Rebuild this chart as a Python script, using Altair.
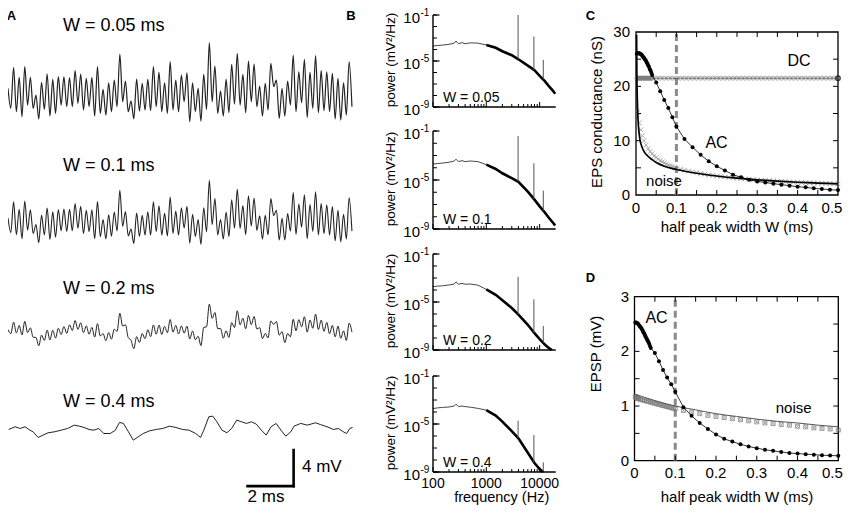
import altair as alt
import pandas as pd

FONT = "Liberation Sans"

# ---------------- Panel A: membrane potential traces (mV) ----------------
A_DT_MS = 0.1214  # spacing of the read extrema for traces W=0.05/0.1/0.2 (ms)
A_TRACE_005 = [-0.04, -2.26, 2.26, -2.63, 1.19, -3.19, 2.37, -1.89, 1.19, -2.26,
               -0.78, -3.44, 0.63, -2.37, 1.56, -3.11, 0.96, -2.81, 1.26, -1.89,
               1.26, -2.07, 1.15, -2.07, 1.93, -1.70, 1.56, -2.44, 1.07, -2.07,
               1.19, -3.11, 2.37, -2.81, -0.15, -3.00, 0.59, -2.63, 0.89, -2.07,
               3.78, -1.52, 0.78, -2.63, -1.44, -3.44, 1.00, -2.56, 0.52, -2.44,
               0.96, -2.52, 2.37, -2.07, 1.74, -2.63, 0.59, -2.81, 2.93, -2.44,
               0.89, -2.63, 1.44, -1.52, 1.70, -3.74, 0.59, -2.63, -0.04, -3.67,
               1.52, -2.37, 5.04, -1.52, 2.44, -2.81, -0.33, -3.11, 0.96, -2.74,
               2.63, -1.78, 3.85, -1.89, 1.52, -2.74, 3.00, -1.52, 2.67, -2.07,
               0.22, -3.11, 0.52, -2.44, 2.74, 0.15, 0.89, -3.37, -0.04, -3.11,
               0.78, -1.89, 3.67, -2.63, 1.81, -1.63, 3.19, -3.26, 1.74, -2.26,
               3.59, -2.74, 1.93, -2.52, 1.81, -2.63, 1.63, -3.44, 1.07, -3.56,
               0.59, -3.00, 2.93, -2.07]
A_TRACE_01 = [-0.06, -1.70, 1.73, -1.93, 0.90, -2.37, 1.83, -1.42, 0.84, -1.79,
              -0.78, -2.82, 0.26, -1.95, 1.04, -2.44, 0.62, -2.20, 0.88, -1.47,
              0.92, -1.56, 0.89, -1.48, 1.54, -1.21, 1.23, -1.80, 0.80, -1.58,
              0.85, -2.37, 1.77, -2.14, -0.23, -2.39, 0.30, -2.09, 0.60, -1.51,
              3.01, -0.99, 0.64, -2.05, -1.30, -2.90, 0.49, -2.13, 0.23, -1.95,
              0.63, -1.95, 1.73, -1.58, 1.30, -1.98, 0.46, -2.06, 2.26, -1.78,
              0.70, -1.96, 1.06, -1.17, 1.24, -2.87, 0.34, -2.11, -0.23, -2.98,
              1.08, -1.60, 4.11, -0.80, 2.09, -1.96, -0.23, -2.40, 0.61, -2.13,
              1.97, -1.21, 3.12, -1.22, 1.31, -1.91, 2.41, -0.96, 2.15, -1.45,
              0.18, -2.41, 0.23, -1.93, 2.09, 0.20, 0.80, -2.51, -0.11, -2.51,
              0.42, -1.53, 2.77, -1.88, 1.48, -1.08, 2.50, -2.36, 1.42, -1.56,
              2.85, -1.93, 1.55, -1.82, 1.41, -1.95, 1.20, -2.60, 0.80, -2.72,
              0.34, -2.39, 2.17, -1.52]
A_TRACE_02 = [-0.13, -0.58, 0.70, -0.49, 0.33, -0.72, 0.79, -0.46, 0.07, -0.98,
              -1.01, -1.93, -0.74, -1.33, -0.18, -1.28, -0.20, -1.07, 0.02, -0.68,
              0.21, -0.55, 0.40, -0.23, 0.87, -0.11, 0.63, -0.47, 0.28, -0.64,
              0.12, -0.96, 0.53, -0.84, -0.57, -1.37, -0.47, -1.19, -0.08, -0.33,
              1.68, 0.26, 0.41, -1.02, -1.32, -2.25, -0.91, -1.56, -0.56, -1.14,
              -0.15, -0.91, 0.39, -0.64, 0.38, -0.68, 0.23, -0.48, 0.99, -0.41,
              0.34, -0.62, 0.28, -0.52, 0.25, -1.18, -0.28, -1.25, -0.87, -1.91,
              0.12, 0.18, 2.70, 1.12, 1.77, -0.03, 0.00, -1.08, -0.26, -1.00,
              0.65, 0.10, 1.96, 0.41, 1.14, -0.04, 1.44, 0.42, 1.33, -0.07,
              0.09, -1.13, -0.56, -1.05, 0.83, 0.45, 0.77, -0.75, -0.36, -1.57,
              -0.56, -0.93, 1.02, -0.27, 0.98, 0.18, 1.30, -0.41, 0.94, 0.02,
              1.59, -0.12, 0.93, -0.32, 0.67, -0.59, 0.34, -0.94, 0.26, -1.09,
              -0.27, -1.34, 0.59, -0.41]
A_TRACE_04_T = [0.03, 0.31, 0.53, 0.74, 0.95, 1.09, 1.31, 1.52, 1.74, 2.02, 2.31, 2.59,
                2.88, 3.09, 3.30, 3.52, 3.73, 3.94, 4.16, 4.44, 4.66, 4.84, 5.01, 5.23,
                5.44, 5.65, 5.87, 6.15, 6.44, 6.72, 7.01, 7.29, 7.58, 7.86, 8.15, 8.36,
                8.50, 8.72, 8.89, 9.07, 9.29, 9.50, 9.71, 9.93, 10.14, 10.35, 10.57,
                10.78, 11.00, 11.21, 11.42, 11.64, 11.85, 12.06, 12.28, 12.42, 12.71,
                12.99, 13.35, 13.56, 13.85, 14.13, 14.34, 14.56, 14.70, 14.84, 14.96]
A_TRACE_04 = [-0.11, 0.19, 0.00, 0.19, -0.19, -0.37, -1.00, -0.74, -0.48, -0.37, -0.19, 0.00,
              0.37, 0.26, 0.11, -0.11, -0.19, 0.00, -0.56, -0.56, -0.19, 0.67, 0.56, -0.37,
              -1.30, -0.93, -0.56, -0.26, -0.11, 0.00, 0.26, 0.11, -0.11, -0.19, -0.56, -1.00,
              -0.19, 1.30, 1.37, 0.74, -0.19, -0.48, 0.00, 0.93, 0.74, 0.56, 0.74,
              0.48, -0.19, -0.74, 0.19, 0.56, -0.19, -0.85, -0.37, 0.26, 0.56,
              0.37, 0.63, 0.44, 0.19, -0.11, 0.00, -0.37, -0.56, 0.00, 0.11]
A_TITLES = ["W = 0.05 ms", "W = 0.1 ms", "W = 0.2 ms", "W = 0.4 ms"]
A_BAR_MS = 2
A_BAR_MV = 4

# ---------------- Panel B: power spectra ----------------
B_FREQ_005 = [100, 120, 150, 200, 250, 270, 300, 350, 400, 500, 700, 1000, 1500, 2000,
              3000, 4000, 6000, 8000, 10000, 12500, 15000, 17500, 19500]
B_LOGP_005 = [-3.70, -3.65, -3.62, -3.55, -3.45, -3.26, -3.50, -3.40, -3.50, -3.42, -3.45,
              -3.60, -3.85, -4.15, -4.50, -4.85, -5.40, -5.80, -6.30, -6.75, -7.20, -7.55, -7.85]
B_FREQ_01 = [100, 120, 150, 200, 250, 270, 300, 350, 400, 500, 700, 1000, 1500, 2000,
             3000, 4000, 6000, 8000, 10000, 12500, 15000, 17500, 19500]
B_LOGP_01 = [-3.70, -3.66, -3.62, -3.55, -3.45, -3.30, -3.50, -3.42, -3.50, -3.45, -3.50,
             -3.75, -4.10, -4.45, -4.85, -5.15, -5.95, -6.60, -7.15, -7.65, -8.10, -8.45, -8.70]
B_FREQ_02 = [100, 120, 150, 200, 250, 270, 300, 350, 400, 500, 700, 1000, 1500, 2000,
             3000, 4000, 6000, 8000, 10000, 12500, 15000, 17000]
B_LOGP_02 = [-3.72, -3.68, -3.65, -3.58, -3.50, -3.32, -3.52, -3.45, -3.52, -3.50, -3.60,
             -3.95, -4.40, -4.85, -5.50, -6.05, -6.90, -7.60, -8.10, -8.55, -8.85, -9.00]
B_FREQ_04 = [100, 120, 150, 200, 250, 270, 300, 350, 400, 500, 700, 1000, 1500, 2000,
             3000, 4000, 6000, 8000, 10000, 11500]
B_LOGP_04 = [-3.72, -3.66, -3.62, -3.58, -3.50, -3.35, -3.55, -3.50, -3.55, -3.60, -3.70,
             -3.85, -4.30, -4.80, -5.60, -6.20, -7.40, -8.25, -8.75, -9.00]
B_SPIKE_F = [3940, 7800, 11700]
B_SPIKE_TOP = [[-1.00, -2.87, -4.90], [-1.41, -3.64, -5.87], [-2.90, -4.78, -7.00], [-4.72, -5.92, -8.20]]
B_SPIKE_BASE = [[-4.85, -5.78, -6.60], [-5.13, -6.55, -7.50], [-6.03, -7.55, -8.40], [-6.18, -8.20, -9.00]]
B_LABELS = ["W = 0.05", "W = 0.1", "W = 0.2", "W = 0.4"]
B_YTICKS = [1e-1, 1e-2, 1e-3, 1e-4, 1e-5, 1e-6, 1e-7, 1e-8, 1e-9]
B_YLAB_P = [1e-1, 1e-5, 1e-9]
B_YLAB_EXP = ["-1", "-5", "-9"]
B_XTICKS_MAJOR = [100, 1000, 10000]
B_XTICKS_MINOR = [200, 300, 400, 500, 600, 700, 800, 900,
                  2000, 3000, 4000, 5000, 6000, 7000, 8000, 9000]
B_XLABELS = ["100", "1000", "10000"]

# ---------------- Panels C, D ----------------
W_AC = [0.002, 0.004, 0.006, 0.008, 0.010, 0.012, 0.014, 0.016, 0.018, 0.020,
        0.022, 0.024, 0.026, 0.028, 0.030, 0.032, 0.034, 0.036, 0.038, 0.040,
        0.05, 0.06, 0.07, 0.08, 0.09, 0.10,
        0.12, 0.14, 0.16, 0.18, 0.20, 0.22, 0.24, 0.26, 0.28, 0.30,
        0.32, 0.34, 0.36, 0.38, 0.40, 0.42, 0.44, 0.46, 0.48, 0.50]
C_AC = [26.0, 26.1, 26.1, 26.1, 26.0, 25.9, 25.8, 25.6, 25.4, 25.2,
        25.0, 24.8, 24.5, 24.2, 23.9, 23.6, 23.2, 22.9, 22.5, 22.1,
        20.7, 19.1, 17.5, 16.0, 14.3, 12.6,
        10.3, 8.8, 7.4, 6.2, 5.3, 4.5, 3.75, 3.25, 2.8, 2.5,
        2.3, 2.08, 1.9, 1.72, 1.53, 1.41, 1.23, 1.1, 0.98, 0.9]
W_DC = [0.002, 0.004, 0.006, 0.008, 0.010, 0.012, 0.014, 0.016, 0.018, 0.020,
        0.022, 0.024, 0.026, 0.028, 0.030, 0.032, 0.034, 0.036, 0.038, 0.040,
        0.05, 0.06, 0.07, 0.08, 0.09, 0.10, 0.11, 0.12, 0.13, 0.14, 0.15, 0.16,
        0.17, 0.18, 0.19, 0.20, 0.21, 0.22, 0.23, 0.24, 0.25, 0.26, 0.27, 0.28,
        0.29, 0.30, 0.31, 0.32, 0.33, 0.34, 0.35, 0.36, 0.37, 0.38, 0.39, 0.40,
        0.41, 0.42, 0.43, 0.44, 0.45, 0.46, 0.47, 0.48, 0.49, 0.50]
C_DC = [21.5, 21.5, 21.5, 21.5, 21.5, 21.5, 21.5, 21.5, 21.5, 21.5,
        21.5, 21.5, 21.5, 21.5, 21.5, 21.5, 21.5, 21.5, 21.5, 21.5,
        21.5, 21.5, 21.5, 21.5, 21.5, 21.5, 21.5, 21.5, 21.5, 21.5, 21.5, 21.5,
        21.5, 21.5, 21.5, 21.5, 21.5, 21.5, 21.5, 21.5, 21.5, 21.5, 21.5, 21.5,
        21.5, 21.5, 21.5, 21.5, 21.5, 21.5, 21.5, 21.5, 21.5, 21.5, 21.5, 21.5,
        21.5, 21.5, 21.5, 21.5, 21.5, 21.5, 21.5, 21.5, 21.5, 21.5]
W_NOISE_C = [0.004, 0.008, 0.012, 0.016, 0.020, 0.025, 0.030, 0.035, 0.040, 0.045,
             0.050, 0.055, 0.060, 0.065, 0.070, 0.075, 0.080, 0.085, 0.090, 0.095, 0.10,
             0.11, 0.12, 0.13, 0.14, 0.15, 0.16, 0.17, 0.18, 0.19, 0.20,
             0.21, 0.22, 0.23, 0.24, 0.25, 0.26, 0.27, 0.28, 0.29, 0.30,
             0.31, 0.32, 0.33, 0.34, 0.35, 0.36, 0.37, 0.38, 0.39, 0.40,
             0.41, 0.42, 0.43, 0.44, 0.45, 0.46, 0.47, 0.48, 0.49, 0.50]
C_NOISE = [15.2, 13.3, 12.0, 10.9, 10.0, 9.2, 8.5, 8.0, 7.6, 7.2,
           6.9, 6.6, 6.3, 6.1, 5.9, 5.7, 5.5, 5.35, 5.2, 5.05, 4.95,
           4.75, 4.55, 4.4, 4.25, 4.1, 3.95, 3.82, 3.7, 3.6, 3.5,
           3.4, 3.32, 3.24, 3.16, 3.08, 3.01, 2.95, 2.89, 2.83, 2.78,
           2.72, 2.67, 2.62, 2.58, 2.53, 2.49, 2.45, 2.41, 2.37, 2.34,
           2.3, 2.27, 2.24, 2.21, 2.18, 2.15, 2.12, 2.09, 2.07, 2.04]
W_NOISE_C_FIT = [0.0015, 0.002, 0.003, 0.004, 0.006, 0.008, 0.010, 0.015, 0.02, 0.03,
                 0.04, 0.05, 0.07, 0.10, 0.15, 0.20, 0.25, 0.30, 0.35, 0.40, 0.45, 0.50]
C_NOISE_FIT = [29.5, 23.0, 18.5, 15.8, 12.8, 11.2, 10.1, 8.8, 8.0, 7.1,
               6.5, 6.0, 5.3, 4.7, 4.0, 3.5, 3.1, 2.8, 2.55, 2.35, 2.2, 2.05]

D_AC = [2.53, 2.53, 2.52, 2.51, 2.49, 2.47, 2.45, 2.43, 2.41, 2.38,
        2.35, 2.32, 2.29, 2.26, 2.23, 2.20, 2.17, 2.14, 2.10, 2.06,
        1.97, 1.82, 1.66, 1.52, 1.40, 1.26,
        0.98, 0.82, 0.69, 0.58, 0.48, 0.40, 0.35, 0.30, 0.26, 0.23,
        0.20, 0.18, 0.16, 0.14, 0.13, 0.12, 0.11, 0.10, 0.095, 0.09]
W_NOISE_D = [0.002, 0.004, 0.006, 0.008, 0.010, 0.015, 0.020, 0.025, 0.030, 0.035,
             0.040, 0.045, 0.050, 0.055, 0.060, 0.065, 0.070, 0.075, 0.080, 0.085,
             0.090, 0.095, 0.10,
             0.12, 0.14, 0.16, 0.18, 0.20, 0.22, 0.24, 0.26, 0.28, 0.30,
             0.32, 0.34, 0.36, 0.38, 0.40, 0.42, 0.44, 0.46, 0.48, 0.50]
D_NOISE = [1.17, 1.16, 1.15, 1.14, 1.13, 1.12, 1.11, 1.10, 1.09, 1.08,
           1.07, 1.06, 1.05, 1.04, 1.03, 1.02, 1.01, 1.00, 0.99, 0.98,
           0.97, 0.96, 0.95,
           0.92, 0.89, 0.86, 0.83, 0.81, 0.79, 0.77, 0.75, 0.73, 0.71,
           0.69, 0.68, 0.66, 0.65, 0.63, 0.62, 0.60, 0.59, 0.58, 0.56]
W_NOISE_D_FIT = [0.0, 0.05, 0.10, 0.15, 0.20, 0.25, 0.30, 0.35, 0.40, 0.45, 0.50]
D_NOISE_FIT = [1.22, 1.10, 1.00, 0.93, 0.86, 0.81, 0.76, 0.72, 0.69, 0.65, 0.62]

W_MARK = 0.1
X_TICKS = [0.05, 0.10, 0.15, 0.20, 0.25, 0.30, 0.35, 0.40, 0.45]
X_LAB_V = [0, 0.1, 0.2, 0.3, 0.4, 0.5]
X_LAB = ["0", "0.1", "0.2", "0.3", "0.4", "0.5"]
C_YTICKS = [5, 10, 15, 20, 25]
C_YLAB_V = [0, 10, 20, 30]
C_YLAB = ["0", "10", "20", "30"]
D_YTICKS = [0.5, 1.0, 1.5, 2.0, 2.5]
D_YLAB_V = [0, 1, 2, 3]
D_YLAB = ["0", "1", "2", "3"]

# ---------------- layout (pixels inside the chart) ----------------
WIDTH, HEIGHT = 835, 497
A_XD, A_XR = [0, 15], [0, 345.5]
A_YD, A_YR = [-55.2, 0], [497, 0]
A_OFFSETS = [-8.89, -23.26, -35.59, -46.70]
A_TITLE_Y = [18, 158, 281, 394]
A_BAR_T0, A_BAR_Y0 = 10.4, -53.1
B_XD, B_XR = [100, 20000], [425, 547.7]
B_YD = [1e-9, 1e-1]
B_YR = [[99, 7], [221, 123], [342, 246], [464, 368]]
C_XD, C_XR, C_YD, C_YR = [0, 0.5], [628, 830], [0, 30], [187, 24]
D_XD, D_XR, D_YD, D_YR = [0, 0.5], [626.5, 830.3], [0, 3], [452.7, 288.7]
LAST_LABEL_DX = -6

XPATH = "M-1,-1L1,1M-1,1L1,-1"
BOXX = "M-1,-1L1,-1L1,1L-1,1Z M-1,-1L1,1M-1,1L1,-1"


def sx(field, d, r, t="linear"):
    return alt.X(field, type="quantitative",
                 scale=alt.Scale(type=t, domain=d, range=r, nice=False, zero=False), axis=None)


def sy(field, d, r, t="linear"):
    return alt.Y(field, type="quantitative",
                 scale=alt.Scale(type=t, domain=d, range=r, nice=False, zero=False), axis=None)


def txt(s, x, y, size=15, align="center", baseline="middle", angle=0, bold=False):
    kw = dict(font=FONT, fontSize=size, align=align, baseline=baseline, color="black")
    if angle:
        kw["angle"] = angle
    if bold:
        kw["fontWeight"] = "bold"
    return alt.Chart(pd.DataFrame({"label": [s]})).mark_text(**kw).encode(
        x=alt.value(x), y=alt.value(y), text="label:N")


layers = []

# ---- Panel A ----
times = [round(i * A_DT_MS, 4) for i in range(len(A_TRACE_005))]
for vals, off, sw in zip([A_TRACE_005, A_TRACE_01, A_TRACE_02], A_OFFSETS[:3], [1.2, 1.1, 1.0]):
    df = pd.DataFrame({"t": times, "mv": vals})
    df["y"] = df["mv"] + off
    layers.append(alt.Chart(df).mark_line(color="#222", strokeWidth=sw, interpolate="monotone")
                  .encode(x=sx("t", A_XD, A_XR), y=sy("y", A_YD, A_YR)))
df4 = pd.DataFrame({"t": A_TRACE_04_T, "mv": A_TRACE_04})
df4["y"] = df4["mv"] + A_OFFSETS[3]
layers.append(alt.Chart(df4).mark_line(color="#222", strokeWidth=1.0)
              .encode(x=sx("t", A_XD, A_XR), y=sy("y", A_YD, A_YR)))
bar = pd.DataFrame({"x": [A_BAR_T0, A_BAR_T0 + A_BAR_MS],
                    "x2": [A_BAR_T0 + A_BAR_MS, A_BAR_T0 + A_BAR_MS],
                    "y": [A_BAR_Y0, A_BAR_Y0],
                    "y2": [A_BAR_Y0, A_BAR_Y0 + A_BAR_MV]})
layers.append(alt.Chart(bar).mark_rule(color="black", strokeWidth=2.6, strokeCap="square")
              .encode(x=sx("x", A_XD, A_XR), x2="x2:Q", y=sy("y", A_YD, A_YR), y2="y2:Q"))
for s, yy in zip(A_TITLES, A_TITLE_Y):
    layers.append(txt(s, 55, yy, size=18, align="left"))
layers.append(txt(f"{A_BAR_MV} mV", 294, 459, size=17, align="left"))
layers.append(txt(f"{A_BAR_MS} ms", 258, 489, size=17))

# panel letters
for s, x, y in [("A", 3.5, 11.5), ("B", 343, 11.5), ("C", 582.5, 11.5), ("D", 582.5, 274)]:
    layers.append(txt(s, x, y, size=13, align="center", baseline="alphabetic", bold=True))

# ---- Panel B ----
spectra = [(B_FREQ_005, B_LOGP_005), (B_FREQ_01, B_LOGP_01), (B_FREQ_02, B_LOGP_02), (B_FREQ_04, B_LOGP_04)]
for i, (fr, lp) in enumerate(spectra):
    yr = B_YR[i]
    bot, top = yr[0], yr[1]
    X = lambda f: sx(f, B_XD, B_XR, "log")
    Y = lambda f: sy(f, B_YD, yr, "log")
    df = pd.DataFrame({"f": fr, "p": [10 ** v for v in lp]})
    layers.append(alt.Chart(df).mark_line(color="#333", strokeWidth=0.9).encode(x=X("f"), y=Y("p")))
    layers.append(alt.Chart(df[df["f"] >= 1000]).mark_line(color="black", strokeWidth=2.6)
                  .encode(x=X("f"), y=Y("p")))
    sp = pd.DataFrame({"f": B_SPIKE_F, "b": [10 ** v for v in B_SPIKE_BASE[i]],
                       "t": [10 ** v for v in B_SPIKE_TOP[i]]})
    layers.append(alt.Chart(sp).mark_rule(color="#555", strokeWidth=1)
                  .encode(x=X("f"), y=Y("b"), y2="t:Q"))
    ax = pd.DataFrame({"f0": [B_XD[0]], "f1": [B_XD[1]], "p0": [B_YD[0]], "p1": [B_YD[1]]})
    layers.append(alt.Chart(ax).mark_rule(color="black", strokeWidth=1.4)
                  .encode(x=X("f0"), y=Y("p0"), y2="p1:Q"))
    layers.append(alt.Chart(ax).mark_rule(color="black", strokeWidth=1.4)
                  .encode(x=X("f0"), x2="f1:Q", y=Y("p0")))
    yt = pd.DataFrame({"p": B_YTICKS})
    layers.append(alt.Chart(yt).mark_rule(color="black", strokeWidth=1)
                  .encode(y=Y("p"), x=alt.value(B_XR[0]), x2=alt.value(B_XR[0] + 4)))
    ytm = pd.DataFrame({"p": B_YLAB_P, "e": B_YLAB_EXP})
    layers.append(alt.Chart(ytm).mark_rule(color="black", strokeWidth=1.2)
                  .encode(y=Y("p"), x=alt.value(B_XR[0]), x2=alt.value(B_XR[0] + 6.5)))
    layers.append(alt.Chart(ytm).mark_text(font=FONT, fontSize=15, align="right", baseline="middle", dy=2.5)
                  .encode(y=Y("p"), x=alt.value(412), text=alt.value("10")))
    layers.append(alt.Chart(ytm).mark_text(font=FONT, fontSize=10, align="left", baseline="middle", dy=-2)
                  .encode(y=Y("p"), x=alt.value(412.5), text="e:N"))
    xtM = pd.DataFrame({"f": B_XTICKS_MAJOR, "lab": B_XLABELS})
    layers.append(alt.Chart(xtM).mark_rule(color="black", strokeWidth=1)
                  .encode(x=X("f"), y=alt.value(bot), y2=alt.value(bot - 5)))
    xtm = pd.DataFrame({"f": B_XTICKS_MINOR})
    layers.append(alt.Chart(xtm).mark_rule(color="black", strokeWidth=1)
                  .encode(x=X("f"), y=alt.value(bot), y2=alt.value(bot - 3)))
    layers.append(txt(B_LABELS[i], 435, bot - 9, size=14, align="left"))
    layers.append(txt("power (mV²/Hz)", 382.7, (top + bot) / 2 - 1, size=13.5, angle=270))
    if i == 3:
        layers.append(alt.Chart(xtM).mark_text(font=FONT, fontSize=14, baseline="middle")
                      .encode(x=X("f"), y=alt.value(475.5), text="lab:N"))
        layers.append(txt("frequency (Hz)", 493.7, 490, size=14.5))


# ---- Panels C and D ----
def box_panel(xd, xr, yd, yr, yticks, ylab_v, ylab, xlab_y, ylab_x):
    out = []
    X = lambda f: sx(f, xd, xr)
    Y = lambda f: sy(f, yd, yr)
    fr = pd.DataFrame({"x0": [xd[0]], "x1": [xd[1]], "y0": [yd[0]], "y1": [yd[1]]})
    out.append(alt.Chart(fr).mark_rect(filled=False, color="black", strokeWidth=1.3)
               .encode(x=X("x0"), x2="x1:Q", y=Y("y0"), y2="y1:Q"))
    dsh = pd.DataFrame({"w": [W_MARK], "y0": [yd[0]], "y1": [yd[1]]})
    out.append(alt.Chart(dsh).mark_rule(color="#8a8a8a", strokeWidth=3, strokeDash=[7, 4])
               .encode(x=X("w"), y=Y("y0"), y2="y1:Q"))
    xt = pd.DataFrame({"w": X_TICKS})
    out.append(alt.Chart(xt).mark_rule(color="black", strokeWidth=1)
               .encode(x=X("w"), y=alt.value(yr[0]), y2=alt.value(yr[0] - 5)))
    out.append(alt.Chart(xt).mark_rule(color="black", strokeWidth=1)
               .encode(x=X("w"), y=alt.value(yr[1]), y2=alt.value(yr[1] + 5)))
    yt = pd.DataFrame({"v": yticks})
    out.append(alt.Chart(yt).mark_rule(color="black", strokeWidth=1)
               .encode(y=Y("v"), x=alt.value(xr[0]), x2=alt.value(xr[0] + 5)))
    out.append(alt.Chart(yt).mark_rule(color="black", strokeWidth=1)
               .encode(y=Y("v"), x=alt.value(xr[1]), x2=alt.value(xr[1] - 5)))
    xl = pd.DataFrame({"w": X_LAB_V, "lab": X_LAB})
    out.append(alt.Chart(xl.iloc[:-1]).mark_text(font=FONT, fontSize=15, baseline="middle")
               .encode(x=X("w"), y=alt.value(xlab_y), text="lab:N"))
    out.append(alt.Chart(xl.iloc[-1:]).mark_text(font=FONT, fontSize=15, baseline="middle", dx=LAST_LABEL_DX)
               .encode(x=X("w"), y=alt.value(xlab_y), text="lab:N"))
    yl = pd.DataFrame({"v": ylab_v, "lab": ylab})
    out.append(alt.Chart(yl).mark_text(font=FONT, fontSize=15, align="right", baseline="middle")
               .encode(y=Y("v"), x=alt.value(ylab_x), text="lab:N"))
    return out, X, Y


# C
cl, X, Y = box_panel(C_XD, C_XR, C_YD, C_YR, C_YTICKS, C_YLAB_V, C_YLAB, 200, 622)
dc = pd.DataFrame({"w": W_DC, "v": C_DC})
cl.append(alt.Chart(dc).mark_line(color="#333", strokeWidth=0.8).encode(x=X("w"), y=Y("v")))
cl.append(alt.Chart(dc).mark_point(shape="circle", filled=False, color="#777", size=16, strokeWidth=0.9)
          .encode(x=X("w"), y=Y("v")))
cl.append(alt.Chart(dc[dc["w"] >= 0.5]).mark_point(shape="circle", filled=False, color="black", size=20,
                                                   strokeWidth=1.3).encode(x=X("w"), y=Y("v")))
nz = pd.DataFrame({"w": W_NOISE_C, "v": C_NOISE})
cl.append(alt.Chart(nz).mark_point(shape=XPATH, filled=False, color="#888", size=22, strokeWidth=1)
          .encode(x=X("w"), y=Y("v")))
nzf = pd.DataFrame({"w": W_NOISE_C_FIT, "v": C_NOISE_FIT})
cl.append(alt.Chart(nzf).mark_line(color="black", strokeWidth=1.7, interpolate="monotone")
          .encode(x=X("w"), y=Y("v")))
ac = pd.DataFrame({"w": W_AC, "v": C_AC})
cl.append(alt.Chart(ac).mark_line(color="black", strokeWidth=0.8).encode(x=X("w"), y=Y("v")))
cl.append(alt.Chart(ac).mark_point(shape="circle", filled=True, color="black", size=16, opacity=1)
          .encode(x=X("w"), y=Y("v")))
cl.append(txt("DC", 791, 53, size=16))
cl.append(txt("AC", 708.5, 134.5, size=16))
cl.append(txt("noise", 656, 173, size=15))
cl.append(txt("EPS conductance (nS)", 588.7, 104, size=15, angle=270))
cl.append(txt("half peak width W (ms)", 729, 219, size=15))
layers += cl

# D
dl, X, Y = box_panel(D_XD, D_XR, D_YD, D_YR, D_YTICKS, D_YLAB_V, D_YLAB, 465.3, 621)
nzd = pd.DataFrame({"w": W_NOISE_D, "v": D_NOISE})
dl.append(alt.Chart(nzd).mark_point(shape=BOXX, filled=False, color="#777", size=16, strokeWidth=1)
          .encode(x=X("w"), y=Y("v")))
nzdf = pd.DataFrame({"w": W_NOISE_D_FIT, "v": D_NOISE_FIT})
dl.append(alt.Chart(nzdf).mark_line(color="#555", strokeWidth=1, interpolate="monotone")
          .encode(x=X("w"), y=Y("v")))
acd = pd.DataFrame({"w": W_AC, "v": D_AC})
dl.append(alt.Chart(acd).mark_line(color="black", strokeWidth=0.8).encode(x=X("w"), y=Y("v")))
dl.append(alt.Chart(acd).mark_point(shape="circle", filled=True, color="black", size=16, opacity=1)
          .encode(x=X("w"), y=Y("v")))
dl.append(txt("AC", 648.5, 309.5, size=16))
dl.append(txt("noise", 785.7, 400, size=15))
dl.append(txt("EPSP (mV)", 588, 346, size=15, angle=270))
dl.append(txt("half peak width W (ms)", 729, 488.5, size=15))
layers += dl

chart = (alt.layer(*layers)
         .resolve_scale(x="independent", y="independent")
         .properties(width=WIDTH, height=HEIGHT, padding=0,
                     autosize=alt.AutoSizeParams(type="none"))
         .configure_view(strokeWidth=0))

chart.save("out.html", embed_options={"renderer": "svg", "actions": False})
